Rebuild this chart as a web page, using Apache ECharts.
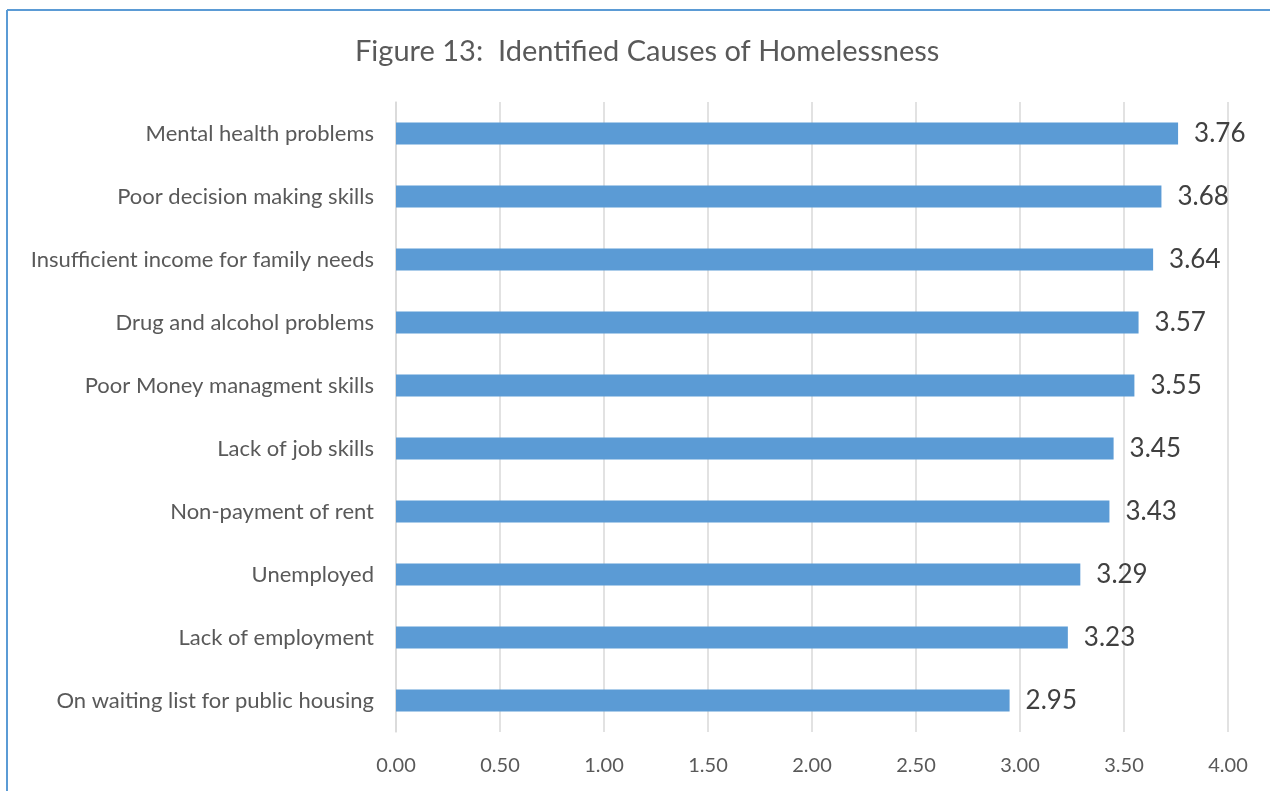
<!DOCTYPE html>
<html>
<head>
<meta charset="utf-8">
<script src="https://cdn.jsdelivr.net/npm/echarts@6/dist/echarts.min.js"></script>
<style>
  html, body { margin: 0; padding: 0; background: #fff; }
  #chart { width: 1270px; height: 791px; }
</style>
</head>
<body>
<div id="chart"></div>
<script>
// Survey causes, listed top to bottom
const categories = [
  'Mental health problems',
  'Poor decision making skills',
  'Insufficient income for family needs',
  'Drug and alcohol problems',
  'Poor Money managment skills',
  'Lack of job skills',
  'Non-payment of rent',
  'Unemployed',
  'Lack of employment',
  'On waiting list for public housing'
];
const scores = [3.76, 3.68, 3.64, 3.57, 3.55, 3.45, 3.43, 3.29, 3.23, 2.95];
const axisMin = 0;
const axisMax = 4;
const axisStep = 0.5;

const chart = echarts.init(document.getElementById('chart'), null, { renderer: 'canvas' });
const font = 'Lato, "Open Sans", sans-serif';

chart.setOption({
  animation: false,
  backgroundColor: '#ffffff',
  title: {
    text: 'Figure 13:  Identified Causes of Homelessness',
    left: 350,
    top: 32,
    textStyle: { fontFamily: font, fontSize: 29, fontWeight: 'normal', color: '#595959' }
  },
  graphic: [
    { type: 'line', shape: { x1: 7, y1: 10, x2: 1270, y2: 10 }, style: { stroke: '#5b9bd5', lineWidth: 2 } },
    { type: 'line', shape: { x1: 7, y1: 10, x2: 7, y2: 791 }, style: { stroke: '#5b9bd5', lineWidth: 2 } }
  ],
  grid: { left: 396, right: 42, top: 102, bottom: 59 },
  xAxis: {
    type: 'value',
    min: axisMin,
    max: axisMax,
    interval: axisStep,
    axisLine: { show: false },
    axisTick: { show: false },
    splitLine: { lineStyle: { color: '#d9d9d9', width: 1.5 } },
    axisLabel: {
      margin: 24,
      fontFamily: font,
      fontSize: 20,
      color: '#595959',
      formatter: v => v.toFixed(2)
    }
  },
  yAxis: {
    type: 'category',
    data: categories,
    inverse: true,
    axisLine: { show: true, lineStyle: { color: '#d9d9d9', width: 1.5 } },
    axisTick: { show: false },
    axisLabel: { margin: 22, fontFamily: font, fontSize: 22, color: '#595959' }
  },
  series: [{
    type: 'bar',
    data: scores,
    barWidth: 22,
    itemStyle: { color: '#5b9bd5' },
    label: {
      show: true,
      position: 'right',
      distance: 16,
      fontFamily: font,
      fontSize: 26,
      color: '#404040',
      formatter: p => p.value.toFixed(2)
    }
  }]
});
</script>
</body>
</html>
